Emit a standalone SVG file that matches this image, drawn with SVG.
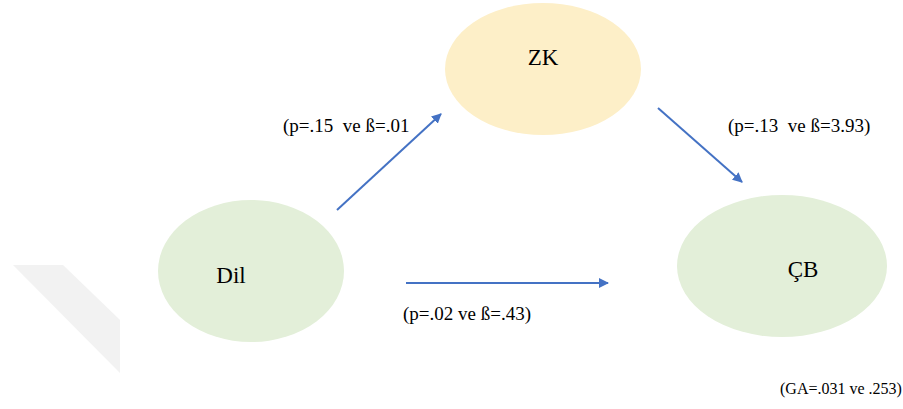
<svg xmlns="http://www.w3.org/2000/svg" width="903" height="409" viewBox="0 0 903 409">
<defs>
<marker id="ah" viewBox="0 0 10 10" refX="9" refY="5" markerWidth="5" markerHeight="5" orient="auto" markerUnits="strokeWidth">
<path d="M0,0 L10,5 L0,10 z" fill="#4472c4"/>
</marker>
</defs>
<polygon points="13,265 63,265 120,320 120,373" fill="#f2f2f2"/>
<g id="node-zk">
<ellipse cx="543" cy="69" rx="98" ry="66" fill="#fdefc8"/>
</g>
<g id="node-dil">
<ellipse cx="251" cy="271" rx="93" ry="71" fill="#e3efd9"/>
</g>
<g id="node-cb">
<ellipse cx="782" cy="266" rx="105" ry="71" fill="#e3efd9"/>
</g>
<text x="543" y="65" font-family="Liberation Serif" font-size="23" text-anchor="middle">ZK</text>
<text x="231" y="283" font-family="Liberation Serif" font-size="23" text-anchor="middle">Dil</text>
<text x="803" y="277" font-family="Liberation Serif" font-size="23" text-anchor="middle">ÇB</text>
<text x="283" y="132" font-family="Liberation Serif" font-size="19" xml:space="preserve">(p=.15  ve ß=.01</text>
<text x="728" y="132" font-family="Liberation Serif" font-size="19" xml:space="preserve">(p=.13  ve ß=3.93)</text>
<text x="403" y="320" font-family="Liberation Serif" font-size="19">(p=.02 ve ß=.43)</text>
<text x="780" y="394" font-family="Liberation Serif" font-size="16">(GA=.031 ve .253)</text>
<g id="connectors" stroke="#4472c4" stroke-width="2" fill="none">
<line x1="337" y1="210" x2="441" y2="114" marker-end="url(#ah)"/>
<line x1="658" y1="108" x2="742" y2="182" marker-end="url(#ah)"/>
<line x1="406" y1="283" x2="608" y2="283" marker-end="url(#ah)"/>
</g>
</svg>
